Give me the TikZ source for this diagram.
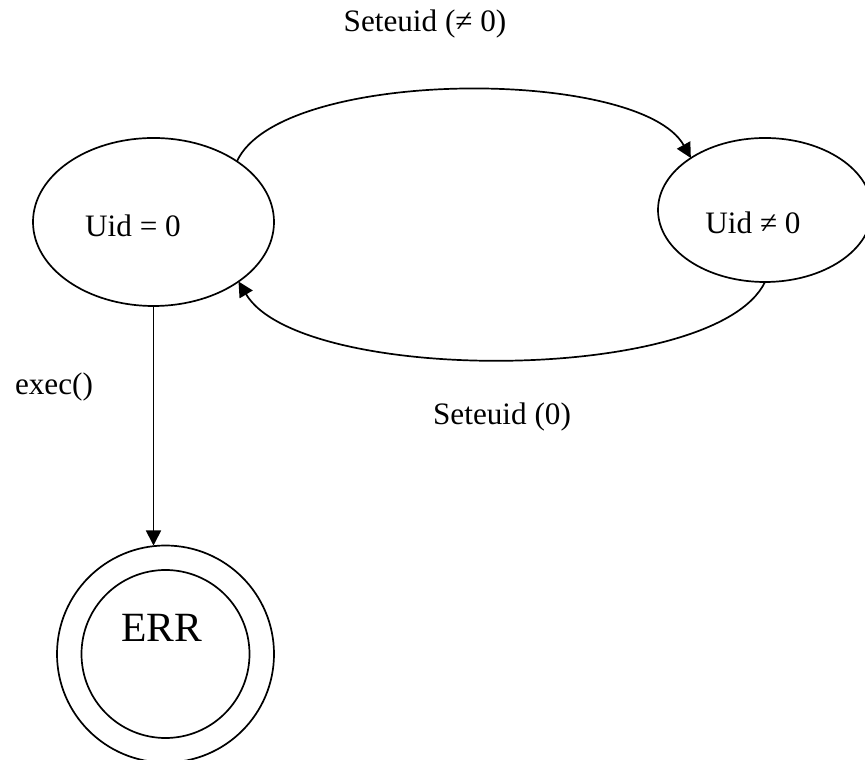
\documentclass[tikz,border=0pt]{standalone}
\usepackage{fontspec}
\setmainfont{Liberation Serif}
\usetikzlibrary{arrows.meta, positioning, shapes.geometric, calc}

\begin{document}
\begin{tikzpicture}[
        x=0.5pt, y=0.5pt,
        state/.style={ellipse, draw, line width=0.85pt, inner sep=0pt, outer sep=0pt},
        final/.style={circle, draw, line width=0.85pt, inner sep=0pt, outer sep=0pt},
        lbl/.style={font=\fontsize{15.6}{18}\selectfont, inner sep=0pt},
        arrow/.style={-{Triangle[length=7.5pt, width=7.5pt]}, line width=0.85pt},
    ]
        \useasboundingbox (0,0) rectangle (865,759);

        \node[state, minimum width=120.5pt, minimum height=84pt] (u0) at (153.5,537) {};
        \node[state, minimum width=107pt, minimum height=72pt] (un) at (765,549) {};
        \node[final, minimum size=108.5pt] (err) at (165.5,105) {};
        \node[final, minimum size=84pt] (errin) at (err) {};

        \node[lbl] (u0txt) at (133,533) {Uid = 0};
        \node[lbl] (untxt) at (753,536) {Uid ≠ 0};
        \node[font=\fontsize{20.8}{24}\selectfont, inner sep=0pt] (errtxt) at (162,131) {ERR};

        \draw[arrow] (u0.36) .. controls (280,692) and (640,692) .. (un.145);
        \draw[arrow] (un.south) .. controls (715,374) and (300,374) .. (u0.-35);
        \draw[arrow] (u0.south) -- (u0.south |- err.north);

        \node[lbl] (setne) at (425,735) {Seteuid (≠ 0)};
        \node[lbl] (setz) at (502,342) {Seteuid (0)};
        \node[lbl] (exec) at (54,372) {exec()};
    \end{tikzpicture}
\end{document}
